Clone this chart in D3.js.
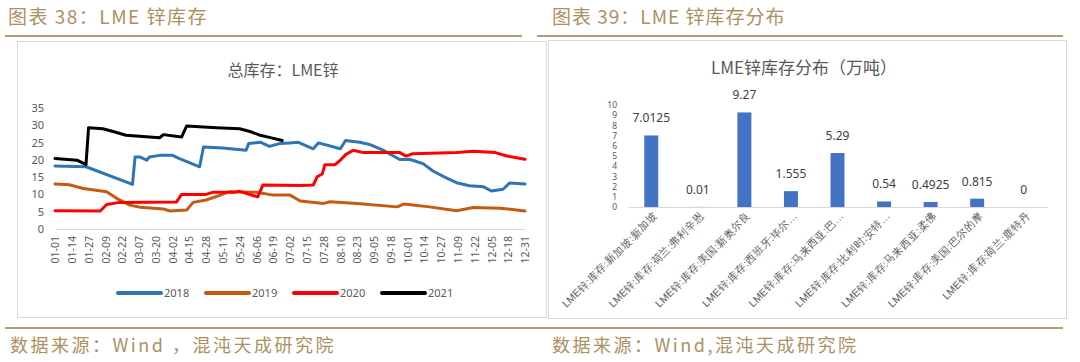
<!DOCTYPE html>
<html>
<head>
<meta charset="utf-8">
<script src="https://cdn.jsdelivr.net/npm/d3@7/dist/d3.min.js"></script>
<style>
  body { margin: 0; background: #fff; }
  svg { display: block; font-family: "Noto Sans CJK SC", "Noto Sans", sans-serif; }
</style>
</head>
<body>
<svg id="chart" width="1080" height="362"></svg>
<script>
// ---- data: LME zinc total stock (10k t) ----
const xTickLabels = ["01-01","01-14","01-27","02-09","02-22","03-07","03-20","04-02","04-15","04-28",
    "05-11","05-24","06-06","06-19","07-02","07-15","07-28","08-10","08-23","09-05","09-18","10-01",
    "10-14","10-27","11-09","11-22","12-05","12-18","12-31"];
const yTicks = [0, 5, 10, 15, 20, 25, 30, 35];

const stock2018 = [["01-01",18.2],["01-25",18.0],["03-02",12.9],["03-04",20.8],["03-08",20.8],["03-13",19.9],
    ["03-15",20.8],["03-23",21.3],["04-02",21.3],["04-07",20.4],["04-23",18.0],["04-26",23.7],["05-11",23.4],
    ["05-29",22.8],["05-31",24.7],["06-09",25.1],["06-16",23.9],["06-24",24.7],["07-02",24.9],["07-08",25.1],
    ["07-20",23.2],["07-24",24.9],["08-10",23.2],["08-14",25.6],["08-25",25.1],["09-02",24.4],["09-12",22.8],
    ["09-25",20.1],["10-03",20.1],["10-13",18.9],["10-21",16.7],["10-31",14.8],["11-08",13.4],["11-18",12.5],
    ["11-29",12.2],["12-05",11.0],["12-14",11.5],["12-19",13.3],["12-31",13.0]];
const stock2019 = [["01-01",13.0],["01-12",12.8],["01-23",11.7],["02-10",10.8],["02-18",8.8],["02-28",6.9],
    ["03-08",6.3],["03-26",5.8],["03-31",5.2],["04-13",5.5],["04-18",7.7],["04-28",8.4],["05-09",9.8],
    ["05-16",10.8],["06-06",10.6],["06-19",9.8],["07-02",9.8],["07-10",8.1],["07-28",7.4],["08-02",7.9],
    ["08-23",7.4],["09-23",6.4],["09-28",7.2],["10-18",6.4],["11-08",5.3],["11-21",6.2],["12-12",6.0],["12-31",5.2]];
const stock2020 = [["01-01",5.3],["02-05",5.2],["02-10",7.1],["02-20",7.7],["04-05",7.8],["04-09",10.0],
    ["04-28",10.0],["05-03",10.6],["05-20",10.6],["05-24",10.9],["06-07",9.3],["06-11",12.7],["07-10",12.6],
    ["07-20",12.7],["07-23",15.1],["07-27",15.9],["07-29",18.6],["08-06",18.6],["08-10",19.9],["08-14",21.5],
    ["08-20",22.8],["08-28",22.1],["09-25",22.1],["09-30",21.1],["10-05",21.8],["11-08",22.1],["11-21",22.5],
    ["12-08",22.1],["12-17",21.1],["12-31",20.2]];
const stock2021 = [["01-01",20.4],["01-18",19.9],["01-25",18.6],["01-27",29.3],["02-07",29.0],["02-15",28.2],
    ["02-25",27.1],["03-23",26.4],["03-26",27.3],["04-09",26.6],["04-13",29.8],["05-06",29.3],["05-24",29.0],
    ["06-01",28.2],["06-09",27.1],["06-16",26.5],["06-26",25.6]];

const seriesNames = ["2018", "2019", "2020", "2021"];
const seriesColors = ["#2e75b6", "#c55a11", "#ff0000", "#000000"];
const seriesData = [stock2018, stock2019, stock2020, stock2021];

// ---- data: LME zinc stock by warehouse (10k t) ----
const warehouses = ["LME锌:库存:新加坡:新加坡", "LME锌:库存:荷兰:弗利辛恩", "LME锌:库存:美国:新奥尔良",
    "LME锌:库存:西班牙:毕尔…", "LME锌:库存:马来西亚:巴…", "LME锌:库存:比利时:安特…",
    "LME锌:库存:马来西亚:柔佛", "LME锌:库存:美国:巴尔的摩", "LME锌:库存:荷兰:鹿特丹"];
const warehouseStock = [7.0125, 0.01, 9.27, 1.555, 5.29, 0.54, 0.4925, 0.815, 0];
const warehouseLabels = ["7.0125", "0.01", "9.27", "1.555", "5.29", "0.54", "0.4925", "0.815", "0"];
const barTicks = [0, 1, 2, 3, 4, 5, 6, 7, 8, 9, 10];

const svg = d3.select("#chart");
const tan = "#ad9062";

// page headers / footers
svg.append("text").attr("x", 8).attr("y", 24).attr("fill", tan)
    .style("font-size", "19px").style("letter-spacing", "1.5px").text("图表 38：LME 锌库存");
svg.append("text").attr("x", 552).attr("y", 24).attr("fill", tan)
    .style("font-size", "19px").style("letter-spacing", "1px").text("图表 39：LME 锌库存分布");
svg.append("line").attr("x1", 5).attr("x2", 522).attr("y1", 36).attr("y2", 36)
    .attr("stroke", "#b49c74").attr("stroke-width", 2);
svg.append("line").attr("x1", 537).attr("x2", 1063).attr("y1", 36).attr("y2", 36)
    .attr("stroke", "#b49c74").attr("stroke-width", 2);
svg.append("line").attr("x1", 5).attr("x2", 1063).attr("y1", 328).attr("y2", 328)
    .attr("stroke", "#b49c74").attr("stroke-width", 2);
svg.append("text").attr("x", 10).attr("y", 352).attr("fill", tan)
    .style("font-size", "18px").style("letter-spacing", "2.5px").text("数据来源：Wind ，混沌天成研究院");
svg.append("text").attr("x", 552).attr("y", 352).attr("fill", tan)
    .style("font-size", "18px").style("letter-spacing", "2.5px").text("数据来源：Wind,混沌天成研究院");

// panel frames
svg.append("rect").attr("x", 17.5).attr("y", 41.5).attr("width", 529).attr("height", 276)
    .attr("fill", "none").attr("stroke", "#d9d9d9");
svg.append("rect").attr("x", 548.5).attr("y", 40.5).attr("width", 518).attr("height", 278)
    .attr("fill", "none").attr("stroke", "#d9d9d9");

// ================= left: line chart =================
const parseDay = d3.timeParse("%Y-%m-%d");
const toDate = md => parseDay("2018-" + md);

const x = d3.scaleTime().domain([toDate("01-01"), toDate("12-31")]).range([55, 525]);
const y = d3.scaleLinear().domain([0, 35]).range([229, 108]);

svg.append("text").attr("x", 283).attr("y", 76).attr("text-anchor", "middle")
    .attr("fill", "#595959").style("font-size", "16px").text("总库存：LME锌");

const yAxis = svg.append("g").attr("transform", "translate(55,0)")
    .call(d3.axisLeft(y).tickValues(yTicks).tickSize(0).tickPadding(11));
yAxis.select(".domain").remove();
yAxis.selectAll("text").attr("fill", "#595959").style("font-size", "11px")
    .style("font-family", "'Noto Sans', sans-serif");

const xAxis = svg.append("g").attr("transform", "translate(0,229)")
    .call(d3.axisBottom(x).tickValues(xTickLabels.map(toDate))
        .tickFormat(d3.timeFormat("%m-%d")).tickSize(0));
xAxis.select(".domain").attr("stroke", "#d9d9d9");
xAxis.selectAll("text")
    .attr("transform", "rotate(-90)")
    .attr("text-anchor", "end")
    .attr("x", -7).attr("y", 0).attr("dy", "0.35em")
    .attr("fill", "#595959").style("font-size", "10.5px")
    .style("font-family", "'Noto Sans', sans-serif");

const line = d3.line().x(d => x(toDate(d[0]))).y(d => y(d[1]));
seriesData.forEach((s, i) => {
    svg.append("path").datum(s).attr("d", line)
        .attr("fill", "none").attr("stroke", seriesColors[i]).attr("stroke-width", 3)
        .attr("stroke-linejoin", "round").attr("stroke-linecap", "round");
});

// legend
const legendX = [118, 206, 294, 382];
seriesNames.forEach((name, i) => {
    const g = svg.append("g").attr("transform", `translate(${legendX[i]},293)`);
    g.append("line").attr("x1", 0).attr("x2", 43).attr("stroke", seriesColors[i])
        .attr("stroke-width", 4).attr("stroke-linecap", "round");
    g.append("text").attr("x", 46).attr("dy", "0.35em").attr("fill", "#595959")
        .style("font-size", "11px").style("font-family", "'Noto Sans', sans-serif").text(name);
});

// ================= right: bar chart =================
const xb = d3.scaleBand().domain(warehouses).range([628, 1047]).paddingInner(0.7).paddingOuter(0.35);
const yb = d3.scaleLinear().domain([0, 10]).range([207, 105]);

svg.append("text").attr("x", 804).attr("y", 74).attr("text-anchor", "middle")
    .attr("fill", "#595959").style("font-size", "17px").text("LME锌库存分布（万吨）");

const ybAxis = svg.append("g").attr("transform", "translate(628,0)")
    .call(d3.axisLeft(yb).tickValues(barTicks).tickSize(0).tickPadding(11));
ybAxis.select(".domain").remove();
ybAxis.selectAll("text").attr("fill", "#595959").style("font-size", "8.5px")
    .style("font-family", "'Noto Sans', sans-serif");

svg.selectAll("rect.bar").data(warehouseStock).join("rect").attr("class", "bar")
    .attr("x", (d, i) => xb(warehouses[i]))
    .attr("y", d => yb(d))
    .attr("width", xb.bandwidth())
    .attr("height", d => yb(0) - yb(d))
    .attr("fill", "#4472c4");

svg.selectAll("text.val").data(warehouseLabels).join("text").attr("class", "val")
    .attr("x", (d, i) => xb(warehouses[i]) + xb.bandwidth() / 2)
    .attr("y", (d, i) => yb(warehouseStock[i]) - 13)
    .attr("text-anchor", "middle").attr("fill", "#404040")
    .style("font-size", "12px").style("font-family", "'Noto Sans', sans-serif")
    .text(d => d);

const xbAxis = svg.append("g").attr("transform", "translate(0,207)")
    .call(d3.axisBottom(xb).tickSize(0));
xbAxis.select(".domain").attr("stroke", "#d9d9d9");
xbAxis.selectAll("text")
    .attr("transform", "translate(4,7) rotate(-45)")
    .attr("text-anchor", "end")
    .attr("x", 0).attr("y", 0).attr("dy", "0.35em")
    .attr("fill", "#595959").style("font-size", "10.5px");
</script>
</body>
</html>
